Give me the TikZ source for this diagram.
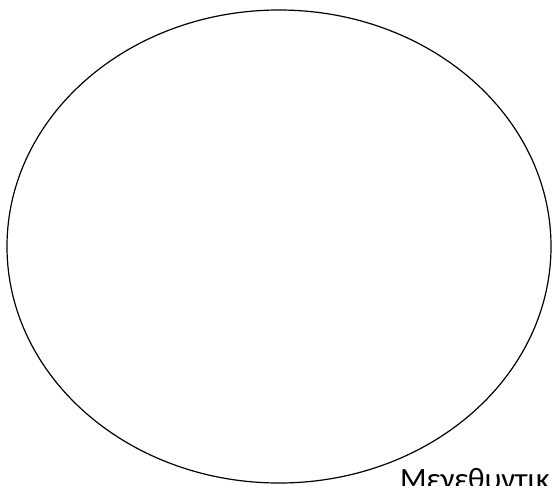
\documentclass[tikz,border=0pt]{standalone}
\usepackage{fontspec}
\setmainfont{Carlito}
\tikzset{
  lens/.style={draw=black, line width=1.2pt, ellipse shape/.try},
  lbl/.style={inner sep=0pt, outer sep=0pt, font=\fontsize{31}{36}\selectfont, anchor=base west}
}
\begin{document}
\begin{tikzpicture}[x=1pt,y=-1pt]
\useasboundingbox (0,0) rectangle (553,485);
\clip (0,0) rectangle (553,485);
\fill[white] (0,0) rectangle (553,485);
\draw[black, line width=1.2pt] (279,246.5) ellipse [x radius=272, y radius=236.5];
\node[lbl] (t) at (400,489) {Μεγεθυντικ};
\end{tikzpicture}
\end{document}
